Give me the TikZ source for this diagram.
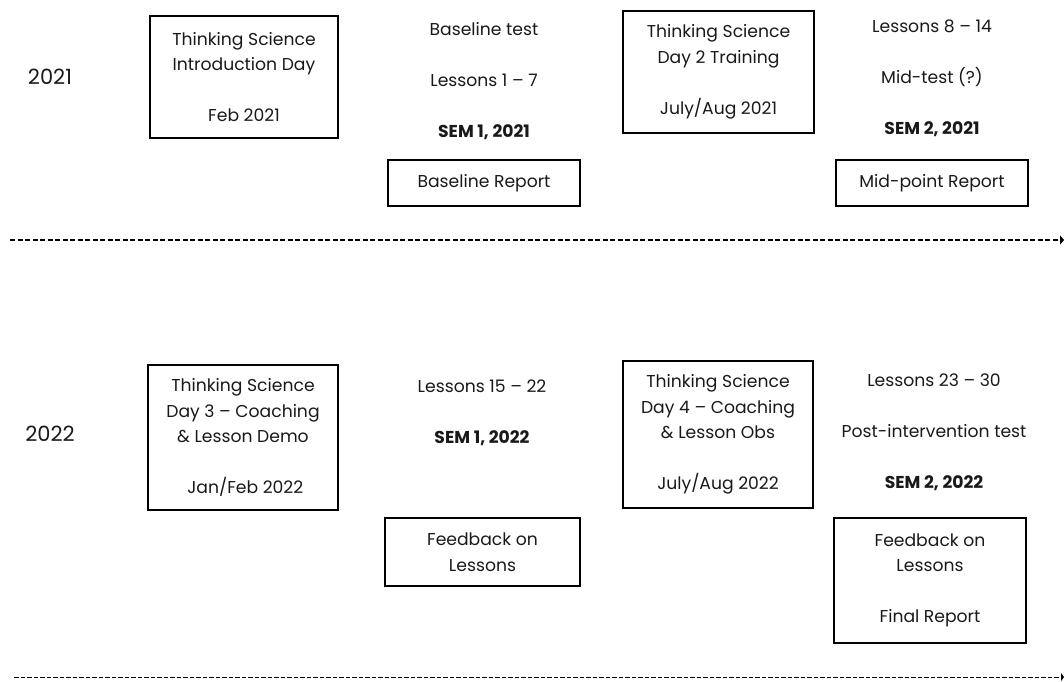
\documentclass[tikz,border=0pt]{standalone}
\usepackage{fontspec}
\setmainfont{Poppins}
\usetikzlibrary{arrows.meta}
\tikzset{
  every node/.style={font=\fontsize{17.2}{25.5}\selectfont, text=black!90},
  box/.style={draw=black, line width=1.4pt, align=center, inner sep=0pt},
  coltext/.style={align=center, inner sep=0pt},
  yeartext/.style={inner sep=0pt, font=\fontsize{21}{24}\selectfont},
  timeline/.style={dashed, dash pattern=on 5pt off 2.5pt, line width=1.3pt, -{Triangle[length=4pt,width=9pt]}},
  timelinetwo/.style={dashed, dash pattern=on 4.5pt off 2pt, line width=0.9pt, -{Triangle[length=3pt,width=8pt]}}
}
\begin{document}
\begin{tikzpicture}[x=1pt,y=-1pt]
\useasboundingbox (0,0) rectangle (1064,681);
% 2021 row
\node[yeartext] (y1) at (50,77) {2021};
\node[box, minimum width=188pt, minimum height=122pt] (b1) at (244,77)
  {Thinking Science\\Introduction Day\\ \\Feb 2021};
\node[coltext] (c1) at (484,81)
  {Baseline test\\ \\Lessons 1 – 7\\ \\\textbf{SEM 1, 2021}};
\node[box, minimum width=192pt, minimum height=46pt] (r1) at (484,183) {Baseline Report};
\node[box, minimum width=191pt, minimum height=122pt] (b2) at (718.5,72)
  {Thinking Science\\Day 2 Training\\ \\July/Aug 2021};
\node[coltext] (c2) at (932,78)
  {Lessons 8 – 14\\ \\Mid-test (?)\\ \\\textbf{SEM 2, 2021}};
\node[box, minimum width=192pt, minimum height=46pt] (r2) at (932,183) {Mid-point Report};
\coordinate (l1s) at (10,240);
\coordinate (l1e) at (1064,240);
\draw[timeline] (l1s) -- (l1e);
% 2022 row
\node[yeartext] (y2) at (50,434) {2022};
\node[box, minimum width=190pt, minimum height=145pt] (b3) at (243,437.5)
  {Thinking Science\\Day 3 – Coaching\\\& Lesson Demo\\ \\\ Jan/Feb 2022};
\node[coltext] (c3) at (482,413)
  {Lessons 15 – 22\\ \\\textbf{SEM 1, 2022}};
\node[box, minimum width=195pt, minimum height=68pt] (f1) at (482.5,552)
  {Feedback on\\Lessons};
\node[box, minimum width=190pt, minimum height=147pt] (b4) at (718,434.5)
  {Thinking Science\\Day 4 – Coaching\\\& Lesson Obs\\ \\July/Aug 2022};
\node[coltext] (c4) at (934,432)
  {Lessons 23 – 30\\ \\Post-intervention test\\ \\\textbf{SEM 2, 2022}};
\node[box, minimum width=192pt, minimum height=125pt] (f2) at (930,580.5)
  {Feedback on\\Lessons\\ \\Final Report};
\coordinate (l2s) at (14,677);
\coordinate (l2e) at (1064,677);
\draw[timelinetwo] (l2s) -- (l2e);
\end{tikzpicture}
\end{document}
